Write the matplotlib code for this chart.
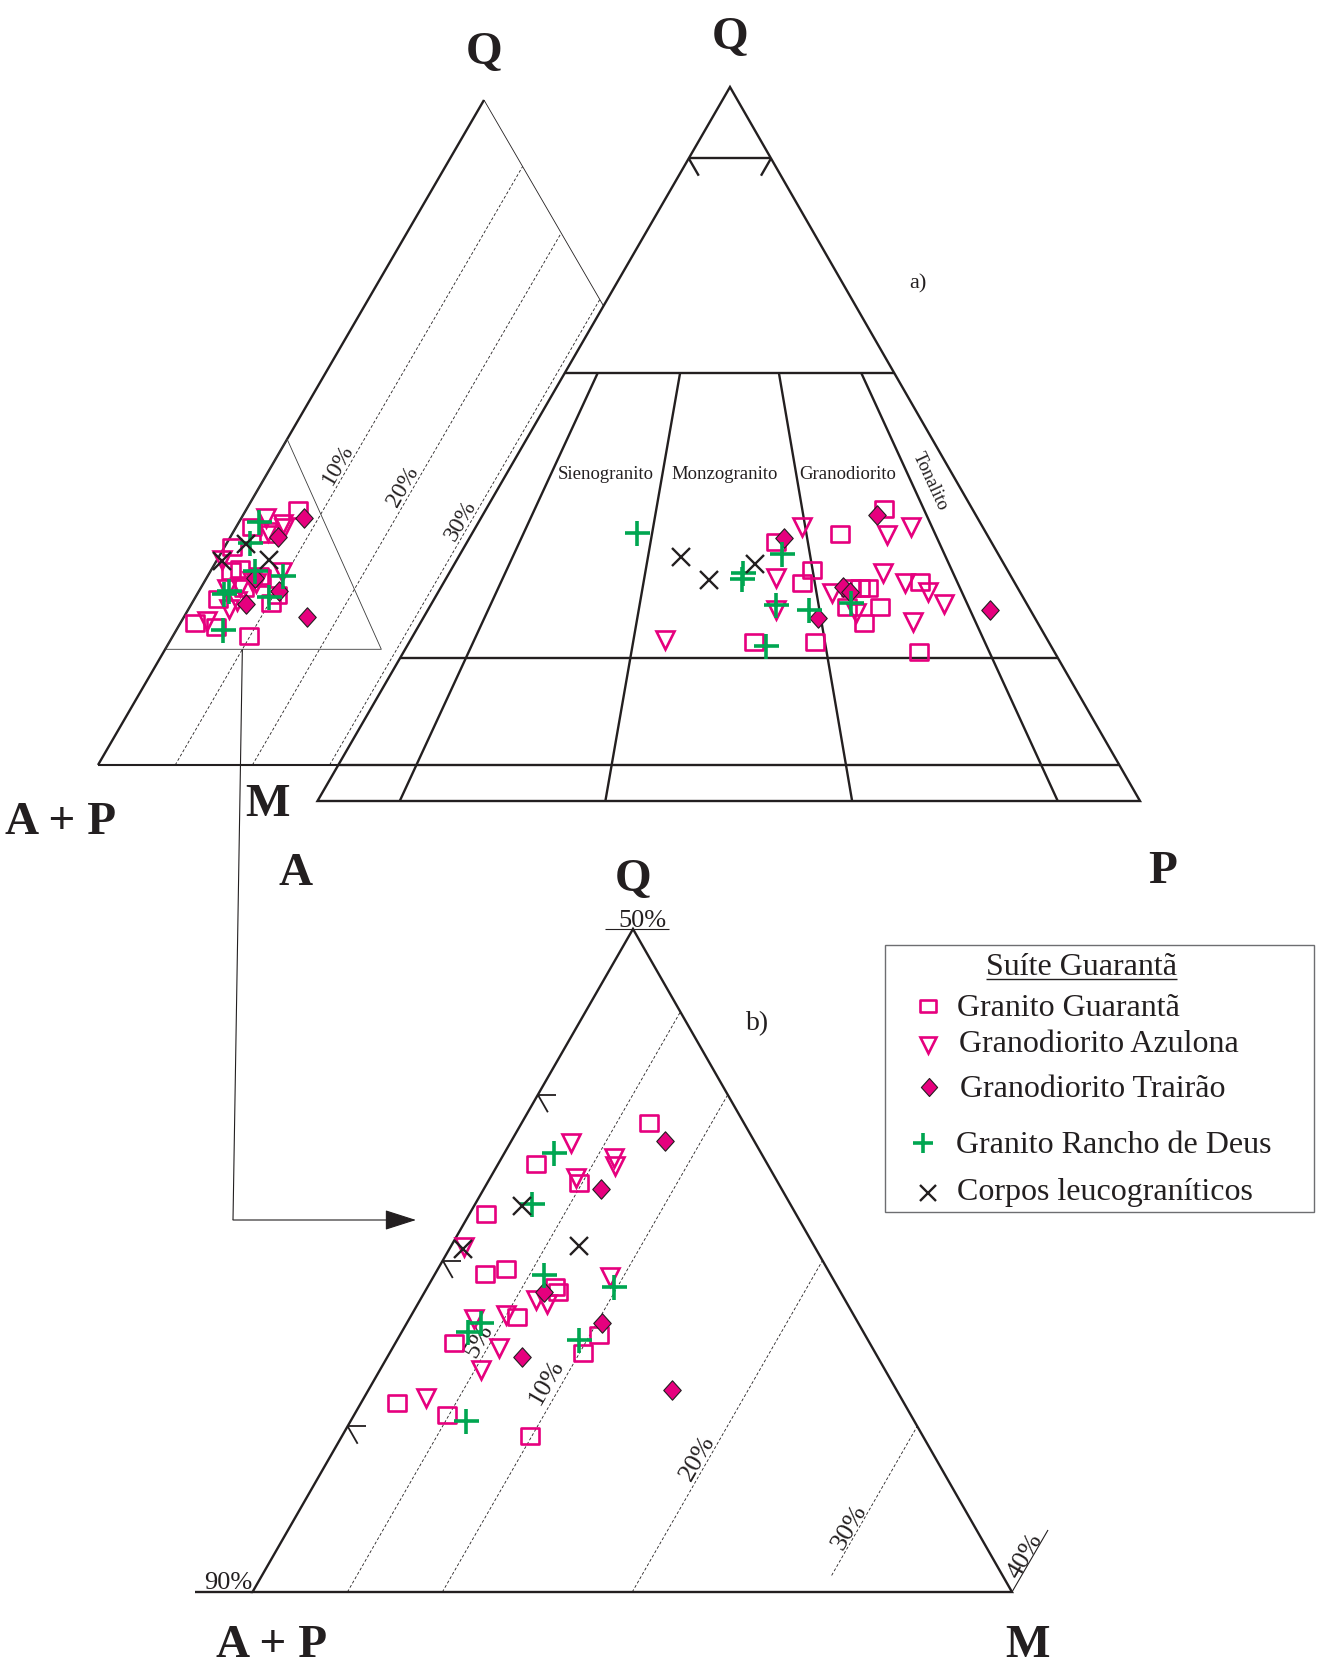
import numpy as np
import matplotlib
matplotlib.use("Agg")
import matplotlib.pyplot as plt
from matplotlib.path import Path
from matplotlib.patches import Polygon, Rectangle

plt.rcParams['font.family'] = ['Liberation Serif', 'DejaVu Serif']
plt.rcParams['lines.solid_capstyle'] = 'butt'

INK = '#231F20'
MAGENTA = '#E6007E'
GREEN = '#00A651'
FRAME = '#6D6E71'

# ---------------------------------------------------------------
# Modal compositions, Q-A-P diagram (%)
# ---------------------------------------------------------------
qap_guaranta_q = [36.3, 37.4, 32.3, 30.6, 22.2, 22.2, 40.9, 29.8, 29.8, 29.9, 27.2, 24.9, 27.2, 30.7, 20.9]
qap_guaranta_a = [26.1, 17.8, 23.8, 25.9, 35.9, 28.5, 10.7, 20.3, 19.2, 18.2, 18.1, 21.2, 22.1, 11.4, 16.5]
qap_guaranta_p = [37.6, 44.8, 43.9, 43.5, 41.9, 49.3, 48.4, 49.9, 51.0, 51.9, 54.7, 53.9, 50.7, 57.9, 62.6]

qap_azulona_q = [38.4, 31.2, 26.8, 29.1, 22.5, 38.4, 37.3, 31.9, 30.5, 29.3, 27.6, 26.3, 25.1]
qap_azulona_a = [22.0, 28.7, 30.9, 23.0, 46.5, 8.7, 12.2, 15.4, 13.4, 11.2, 10.1, 21.4, 15.1]
qap_azulona_p = [39.6, 40.1, 42.3, 47.9, 31.0, 52.9, 50.5, 52.7, 56.1, 59.5, 62.3, 52.3, 59.8]

qap_trairao_q = [36.8, 25.6, 30.0, 29.3, 40.1, 26.8]
qap_trairao_a = [24.9, 26.4, 21.1, 20.7, 12.0, 4.9]
qap_trairao_p = [38.3, 48.0, 48.9, 50.0, 47.9, 68.3]

qap_rancho_q = [37.5, 32.0, 31.1, 34.6, 27.5, 26.8, 21.7, 27.7]
qap_rancho_a = [42.5, 32.3, 32.9, 26.3, 30.5, 26.9, 34.7, 21.3]
qap_rancho_p = [20.0, 35.7, 36.0, 39.1, 42.0, 46.3, 43.6, 51.0]

qap_leuco_q = [34.2, 31.0, 33.2]
qap_leuco_a = [38.8, 36.9, 30.2]
qap_leuco_p = [27.0, 32.1, 36.6]

# ---------------------------------------------------------------
# Modal compositions, Q-(A+P)-M diagram (%)
# ---------------------------------------------------------------
qm_guaranta_q = [38.3, 35.8, 34.7, 32.8, 29.2, 29.5, 28.4, 28.1, 26.6, 25.0, 25.5, 24.4, 21.4, 20.7, 19.4]
qm_guaranta_ap = [55.0, 62.2, 60.5, 66.3, 68.2, 66.9, 64.9, 64.9, 67.8, 71.9, 64.0, 65.4, 76.7, 74.4, 70.7]
qm_guaranta_m = [6.7, 2.0, 4.8, 0.9, 2.6, 3.6, 6.7, 7.0, 5.6, 3.1, 10.5, 10.2, 1.9, 4.9, 9.9]

qm_azulona_q = [37.1, 36.2, 35.7, 35.0, 30.8, 29.0, 27.6, 27.4, 26.5, 26.7, 24.7, 23.4, 21.7]
qm_azulona_ap = [59.7, 57.9, 58.1, 60.5, 68.5, 61.7, 66.3, 65.8, 70.1, 68.3, 69.7, 71.3, 75.0]
qm_azulona_m = [3.2, 5.9, 6.2, 4.5, 0.7, 9.3, 6.1, 6.8, 3.4, 5.0, 5.6, 5.3, 3.3]

qm_trairao_q = [37.2, 34.3, 28.1, 26.2, 24.2, 22.2]
qm_trairao_ap = [54.7, 59.5, 65.6, 63.5, 68.7, 61.8]
qm_trairao_m = [8.1, 6.2, 6.3, 10.3, 7.1, 16.0]

qm_rancho_q = [36.5, 33.4, 29.1, 28.4, 26.2, 25.7, 25.2, 20.3]
qm_rancho_ap = [60.9, 63.6, 65.1, 61.8, 69.9, 70.8, 65.2, 73.6]
qm_rancho_m = [2.6, 3.0, 5.8, 9.8, 3.9, 3.5, 9.6, 6.1]

qm_leuco_q = [33.3, 30.9, 30.7]
qm_leuco_ap = [64.2, 62.4, 68.6]
qm_leuco_m = [2.5, 6.7, 0.7]

# Classification limits
qap_q_limits = [60, 20, 5]                 # horizontal Q boundaries
qap_ratio_limits = [10, 35, 65, 90]        # 100*P/(A+P)
field_names = ['Sienogranito', 'Monzogranito', 'Granodiorito']
qm_iso = [10, 20, 30]                      # M isolines, full diagram
zoom_iso = [5, 10, 20, 30]                 # M isolines, enlarged window
zoom_ticks_q = [40, 30, 20]

legend_labels = ['Granito Guarantã', 'Granodiorito Azulona', 'Granodiorito Trairão',
                 'Granito Rancho de Deus', 'Corpos leucograníticos']

# ---------------------------------------------------------------
# Triangle geometry (figure pixel units, y downwards)
# ---------------------------------------------------------------
QAP_V = np.array([[730.0, 87.0], [317.5, 801.0], [1140.0, 801.0]])   # Q, A, P
QM_V = np.array([[484.0, 100.0], [98.0, 765.0], [870.0, 765.0]])     # Q, A+P, M
ZOOM_V = np.array([[633.0, 929.0], [252.5, 1592.0], [1012.0, 1592.0]])  # Q50, A+P90, M40


def qap_xy(q, a, p):
    w = np.column_stack([np.atleast_1d(q), np.atleast_1d(a), np.atleast_1d(p)]).astype(float) / 100.0
    return w @ QAP_V


def qm_xy(q, ap, m):
    w = np.column_stack([np.atleast_1d(q), np.atleast_1d(ap), np.atleast_1d(m)]).astype(float) / 100.0
    return w @ QM_V


def zoom_xy(q, ap, m):
    q = np.atleast_1d(np.asarray(q, float))
    m = np.atleast_1d(np.asarray(m, float))
    wt = (q - 10.0) / 40.0
    wr = m / 40.0
    w = np.column_stack([wt, 1.0 - wt - wr, wr])
    return w @ ZOOM_V


RECT = Path([(-0.62, -0.5), (0.62, -0.5), (0.62, 0.5), (-0.62, 0.5), (-0.62, -0.5)],
            [Path.MOVETO, Path.LINETO, Path.LINETO, Path.LINETO, Path.CLOSEPOLY])
DIAM = Path([(0, 0.5), (0.45, 0), (0, -0.5), (-0.45, 0), (0, 0.5)],
            [Path.MOVETO, Path.LINETO, Path.LINETO, Path.LINETO, Path.CLOSEPOLY])

STYLES = [
    dict(marker=RECT, ms=13.5, mfc='none', mec=MAGENTA, mew=1.9),
    dict(marker='v', ms=13, mfc='none', mec=MAGENTA, mew=1.9),
    dict(marker=DIAM, ms=14, mfc=MAGENTA, mec=INK, mew=0.8),
    dict(marker='+', ms=18, mfc='none', mec=GREEN, mew=2.6),
    dict(marker='x', ms=13.5, mfc='none', mec=INK, mew=1.7),
]

LW_THICK = 1.7
LW_THIN = 0.6
DASH = (3.5, 2.5)

fig = plt.figure(figsize=(13.2, 16.7), dpi=100)
ax = fig.add_axes([0, 0, 1, 1])
ax.set_xlim(0, 1320)
ax.set_ylim(1670, 0)
ax.axis('off')


def seg(p0, p1, **kw):
    ax.plot([p0[0], p1[0]], [p0[1], p1[1]], **kw)


# ---------------------------------------------------------------
# Q-(A+P)-M triangle (left)
# ---------------------------------------------------------------
vQ, vAP, vM = QM_V
seg(vAP, vQ, color=INK, lw=LW_THICK, zorder=1)
seg(vAP, vM, color=INK, lw=1.5, zorder=1)
seg(vQ, vM, color=INK, lw=LW_THIN, zorder=1)
for m in qm_iso:
    xy = qm_xy([0, 100 - m], [100 - m, 0], [m, m])
    ax.plot(xy[:, 0], xy[:, 1], color=INK, lw=LW_THIN, dashes=DASH, zorder=1)

# enlarged window outline
win = qm_xy([49, 17.4, 17.4, 49], [51, 82.6, 54.6, 51], [0, 0, 28, 0])
ax.plot(win[:, 0], win[:, 1], color='#3A3A3A', lw=LW_THIN, zorder=1)

for txt, (x, y) in zip(['10%', '20%', '30%'], [(338, 465), (403, 487), (461, 521)]):
    ax.text(x, y, txt, fontsize=17, color=INK, rotation=60, ha='center', va='center',
            rotation_mode='anchor', zorder=1.5)

# connector to the enlarged diagram
c0 = qm_xy(17.4, 72.6, 10.0)[0]
seg(c0, (233, 1220), color=INK, lw=0.8, zorder=1)
ax.annotate('', xy=(416, 1220), xytext=(233, 1220),
            arrowprops=dict(arrowstyle='-|>,head_length=1.0,head_width=0.32', color=INK,
                            lw=0.8, shrinkA=0, shrinkB=0, mutation_scale=20), zorder=1)

# ---------------------------------------------------------------
# QAP triangle
# ---------------------------------------------------------------
ax.add_patch(Polygon(QAP_V, closed=True, fc='white', ec=INK, lw=LW_THICK, zorder=2,
                     joinstyle='miter'))
for q in qap_q_limits:
    xy = qap_xy([q, q], [100 - q, 0], [0, 100 - q])
    ax.plot(xy[:, 0], xy[:, 1], color=INK, lw=LW_THICK, zorder=3)
for r in qap_ratio_limits:
    xy = qap_xy([60, 0], [40 * (1 - r / 100), 100 * (1 - r / 100)], [40 * r / 100, r])
    ax.plot(xy[:, 0], xy[:, 1], color=INK, lw=LW_THICK, zorder=3)

# Q = 90 % bracket
L = qap_xy(90, 10, 0)[0]
R = qap_xy(90, 0, 10)[0]
seg(L, R, color=INK, lw=LW_THICK, zorder=3)
seg(L, L + np.array([10, 17.3]), color=INK, lw=LW_THICK, zorder=3)
seg(R, R + np.array([-10, 17.3]), color=INK, lw=LW_THICK, zorder=3)

for name, x in zip(field_names, [606, 724.5, 848]):
    ax.text(x, 479, name, fontsize=13.5, color=INK, ha='center', va='baseline', zorder=4)
ax.text(930, 481, 'Tonalito', fontsize=13.5, color=INK, rotation=-65, ha='center',
        va='center', rotation_mode='anchor', zorder=4)
ax.text(918, 288, 'a)', fontsize=16, color=INK, ha='center', va='baseline', zorder=4)

# ---------------------------------------------------------------
# Enlarged Q-(A+P)-M window (b)
# ---------------------------------------------------------------
ax.add_patch(Polygon(ZOOM_V, closed=True, fc='none', ec=INK, lw=LW_THICK, zorder=2,
                     joinstyle='miter'))
zT, zL, zR = ZOOM_V
seg((195, zL[1]), zL, color=INK, lw=LW_THICK, zorder=2)
seg((605, zT[1]), (669, zT[1]), color=INK, lw=0.8, zorder=2)
seg(zR, zR + np.array([36, -62]), color=INK, lw=0.8, zorder=2)

for m in zoom_iso:
    q0 = 11.0 if m == 30 else 10.0
    xy = zoom_xy([q0, 50 - m], [100 - q0 - m, 50], [m, m])
    ax.plot(xy[:, 0], xy[:, 1], color=INK, lw=LW_THIN, dashes=DASH, zorder=2)

for q in zoom_ticks_q:
    p = zoom_xy(q, 100 - q, 0)[0]
    seg(p, p + np.array([18, 0]), color=INK, lw=1.3, zorder=2)
    seg(p, p + np.array([10, 17.5]), color=INK, lw=1.3, zorder=2)

pct = dict(fontsize=19, color=INK, ha='center', va='center', rotation_mode='anchor', zorder=2.5)
for txt, (x, y) in zip(['5%', '10%', '20%', '30%', '40%'],
                       [(479, 1341), (547, 1382), (698, 1458), (850, 1527), (1025, 1556)]):
    ax.text(x, y, txt, rotation=60, **pct)
ax.text(642, 927, '50%', fontsize=19, color=INK, ha='center', va='baseline')
ax.text(252, 1589, '90%', fontsize=19, color=INK, ha='right', va='baseline')
ax.text(758, 1030, 'b)', fontsize=20, color=INK, ha='center', va='baseline')

# ---------------------------------------------------------------
# Vertex labels
# ---------------------------------------------------------------
big = dict(fontsize=34, fontweight='bold', color=INK, ha='center', va='baseline')
ax.text(484, 64, 'Q', **big)
ax.text(730, 49, 'Q', **big)
ax.text(61, 834, 'A + P', **big)
ax.text(268, 816, 'M', **big)
ax.text(296, 885, 'A', **big)
ax.text(1163, 883, 'P', **big)
ax.text(633, 891, 'Q', **big)
ax.text(272, 1657, 'A + P', **big)
ax.text(1027, 1657, 'M', **big)

# ---------------------------------------------------------------
# Samples
# ---------------------------------------------------------------
qap_sets = [(qap_guaranta_q, qap_guaranta_a, qap_guaranta_p),
            (qap_azulona_q, qap_azulona_a, qap_azulona_p),
            (qap_trairao_q, qap_trairao_a, qap_trairao_p),
            (qap_rancho_q, qap_rancho_a, qap_rancho_p),
            (qap_leuco_q, qap_leuco_a, qap_leuco_p)]
qm_sets = [(qm_guaranta_q, qm_guaranta_ap, qm_guaranta_m),
           (qm_azulona_q, qm_azulona_ap, qm_azulona_m),
           (qm_trairao_q, qm_trairao_ap, qm_trairao_m),
           (qm_rancho_q, qm_rancho_ap, qm_rancho_m),
           (qm_leuco_q, qm_leuco_ap, qm_leuco_m)]

for k, (data, st) in enumerate(zip(qap_sets, STYLES)):
    xy = qap_xy(*data)
    ax.plot(xy[:, 0], xy[:, 1], ls='none', zorder=5 + k, **st)
for k, (data, st) in enumerate(zip(qm_sets, STYLES)):
    xy = qm_xy(*data)
    ax.plot(xy[:, 0], xy[:, 1], ls='none', zorder=5 + k, **st)
    xy = zoom_xy(*data)
    ax.plot(xy[:, 0], xy[:, 1], ls='none', zorder=5 + k, **st)

# ---------------------------------------------------------------
# Key
# ---------------------------------------------------------------
ax.add_patch(Rectangle((885, 945), 429, 267, fc='white', ec=FRAME, lw=1.0, zorder=10))
title = ax.text(1081.7, 975, 'Suíte Guarantã', fontsize=23, color=INK, ha='center',
                va='baseline', zorder=11)
key_rows = [(927.7, 1006, 957.3, 1016), (927.7, 1045, 959, 1052), (929.3, 1087, 960, 1097),
            (923.3, 1143, 956, 1153), (927.7, 1193, 957.3, 1200)]
key_sizes = [11, 11, 13, 14, 11]
for lab, st, (mx, my, tx, ty), ms in zip(legend_labels, STYLES, key_rows, key_sizes):
    kst = dict(st)
    kst['ms'] = ms
    ax.plot([mx], [my], ls='none', zorder=11, **kst)
    ax.text(tx, ty, lab, fontsize=23, color=INK, ha='left', va='baseline', zorder=11)

fig.canvas.draw()
bb = title.get_window_extent(fig.canvas.get_renderer())
seg((bb.x0, 978.5), (bb.x1, 978.5), color=INK, lw=1.0, zorder=11)

fig.savefig('out.png', dpi=100)
